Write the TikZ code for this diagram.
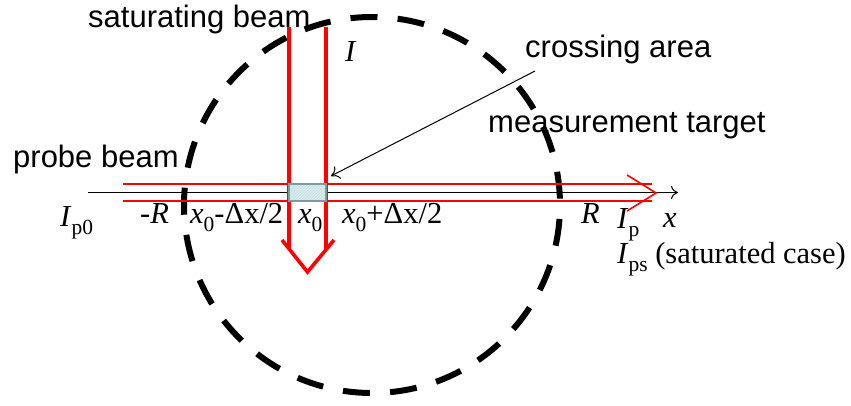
\documentclass[tikz,border=0pt]{standalone}
\usepackage{fontspec}
\setmainfont{Liberation Serif}
\setsansfont{Liberation Sans}
\usetikzlibrary{arrows.meta,patterns}
\newcommand{\sansbig}{\sffamily\fontsize{31}{37}\selectfont}
\newcommand{\serifbig}{\rmfamily\fontsize{30.5}{36}\selectfont}
\newcommand{\lowsub}[1]{\raisebox{-8pt}{\fontsize{21.5}{22}\selectfont #1}}
\definecolor{boxfill}{RGB}{214,238,242}
\definecolor{boxline}{RGB}{125,155,155}
\begin{document}
\begin{tikzpicture}[x=1pt,y=-1pt,
  lbl/.style={inner sep=0pt, anchor=base west},
  stxt/.style={lbl, font=\sansbig},
  mtxt/.style={lbl, font=\serifbig},
  redthin/.style={red, line width=1.6pt},
  redthick/.style={red, line width=3.6pt},
  axisline/.style={black, line width=1pt, -{To[length=7pt,width=13pt]}},
  pointer/.style={black, line width=1pt, -{To[length=8pt,width=14pt]}},
  dashcircle/.style={black, line width=6pt, dash pattern=on 27pt off 20.25pt, dash phase=33.25pt},
  crossbox/.style={draw=boxline, fill=boxfill, line width=2.2pt, inner sep=0pt, minimum width=37pt, minimum height=17pt}
]
\useasboundingbox (0,0) rectangle (851,405);
% dashed measurement target circle
\draw[dashcircle] (372,205) circle[radius=188];
% x axis
\coordinate (axL) at (88,192.5);
\coordinate (axR) at (678,192.5);
\draw[axisline] (axL) -- (axR);
% probe beam (red)
\coordinate (pU1) at (123,184); \coordinate (pU2) at (652,184);
\coordinate (pL1) at (123,201); \coordinate (pL2) at (652,201);
\draw[redthin] (pU1) -- (pU2);
\draw[redthin] (pL1) -- (pL2);
\draw[redthin] (627,175) -- (656,193) -- (627,211);
% saturating beam (red)
\coordinate (sL1) at (289,27); \coordinate (sL2) at (289,249);
\coordinate (sR1) at (326,27); \coordinate (sR2) at (326,249);
\draw[redthick] (sL1) -- (sL2);
\draw[redthick] (sR1) -- (sR2);
\draw[redthick, line join=miter] (282,240) -- (307.5,272) -- (334,240);
% crossing area box
\node[crossbox] (box) at (307.5,192.5) {};
\fill[pattern=north east lines, pattern color=boxline!40] (290,185.5) rectangle (325,199.5);
% pointer
\coordinate (ptrS) at (535,71);
\coordinate (ptrE) at (331,176);
\draw[pointer] (ptrS) -- (ptrE);
% sans labels
\node[stxt] (sat) at (88,27) {saturating beam};
\node[stxt] (cross) at (525,57) {crossing area};
\node[stxt] (meas) at (488,132) {measurement target};
\node[stxt] (probe) at (13,167) {probe beam};
% serif labels
\node[mtxt] (Ilab) at (345,61) {\textit{I}};
\node[mtxt] (Ip0) at (60,226) {\textit{I}\lowsub{p0}};
\node[mtxt] (mR) at (140,223) {-\textit{R}};
\node[mtxt] (xm) at (190,223) {\textit{x}\lowsub{0}-Δx/2};
\node[mtxt] (x0) at (298,223) {\textit{x}\lowsub{0}};
\node[mtxt] (xp) at (342,223) {\textit{x}\lowsub{0}+Δx/2};
\node[mtxt] (pR) at (581,223) {\textit{R}};
\node[mtxt] (Ip) at (617,228) {\textit{I}\lowsub{p}};
\node[mtxt] (xl) at (663,227) {\textit{x}};
\node[mtxt] (Ips) at (617,263) {\textit{I}\lowsub{ps} (saturated case)};
\end{tikzpicture}
\end{document}
